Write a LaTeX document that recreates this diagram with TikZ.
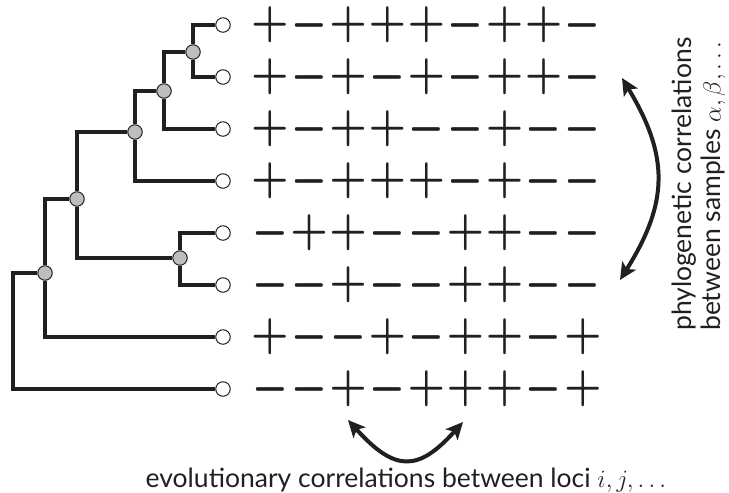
\documentclass[tikz,border=0pt]{standalone}
\usepackage[no-math]{fontspec}
\setmainfont{Lato}
\usepackage{amsmath}
\usetikzlibrary{arrows.meta}

\definecolor{treeblack}{RGB}{35,31,32}
\definecolor{nodegray}{RGB}{188,190,192}

\newcommand{\signp}{$+$}
\newcommand{\signm}{$-$}

\tikzset{
  branch/.style={line width=4pt, color=treeblack, line join=miter},
  leaf/.style={circle, draw=treeblack, fill=white, line width=1pt, minimum size=14.5pt, inner sep=0pt},
  split/.style={circle, draw=treeblack, fill=nodegray, line width=1pt, minimum size=14.5pt, inner sep=0pt},
  sign/.style={inner sep=0pt, text=treeblack, font=\boldmath},
  signp/.style={sign, xscale=4.2, yscale=4.7},
  signm/.style={sign, xscale=4.0, yscale=6},
  corr/.style={line width=4pt, color=treeblack, {Stealth[length=17pt,width=16pt,inset=4pt]}-{Stealth[length=17pt,width=16pt,inset=4pt]}},
  note/.style={inner sep=0pt, text=treeblack, font=\fontsize{26.5}{29}\selectfont}
}

\begin{document}
\begin{tikzpicture}[x=1pt,y=-1pt]
\useasboundingbox (0,0) rectangle (729,493);

% samples (leaves)
\foreach \i/\y in {1/25,2/77,3/129,4/181,5/233,6/285,7/337,8/389}
  \node[leaf] (l\i) at (223,\y) {};

% ancestors
\node[split] (A) at (193,52) {};
\node[split] (B) at (164,91) {};
\node[split] (C) at (135,132) {};
\node[split] (D) at (77,199) {};
\node[split] (E) at (180,258) {};
\node[split] (F) at (45,273) {};
\coordinate (root) at (13,389);

\draw[branch] (l1) -| (A) |- (l2);
\draw[branch] (A) -| (B) |- (l3);
\draw[branch] (B) -| (C) |- (l4);
\draw[branch] (C) -| (D) |- (E);
\draw[branch] (l5) -| (E) |- (l6);
\draw[branch] (D) -| (F) |- (l7);
\draw[branch] (F) -| (root) -- (l8);

% loci
\foreach \row [count=\r] in {{p,m,p,p,p,m,p,p,m},{p,m,p,m,p,m,p,p,m},{p,m,p,p,m,m,p,m,m},{p,m,p,p,p,m,p,m,m},{m,p,p,m,m,p,p,m,m},{m,m,p,m,m,p,p,m,m},{p,m,m,p,m,p,p,m,p},{m,m,p,m,p,p,p,m,p}}
  \foreach \s [count=\c] in \row
    \node[sign\s] (s\r-\c) at ({270+39.1*(\c-1)},{25+52*(\r-1)}) {\csname sign\s\endcsname};

% correlations
\coordinate (lociL) at (348,420);
\coordinate (lociR) at (463,422);
\draw[corr] (lociL) .. controls (395,472) and (418,472) .. (lociR);
\coordinate (sampT) at (622,78);
\coordinate (sampB) at (620,280);
\draw[corr] (sampT) .. controls (669,156) and (669,202) .. (sampB);

\node[note, anchor=base] (loci) at (406,487) {evolutionary correlations between loci $i, j, \ldots$};
\node[note, rotate=90, anchor=north west, align=left] (samples) at (672,331) {phylogenetic correlations\\between samples $\alpha, \beta, \ldots$};
\end{tikzpicture}
\end{document}
